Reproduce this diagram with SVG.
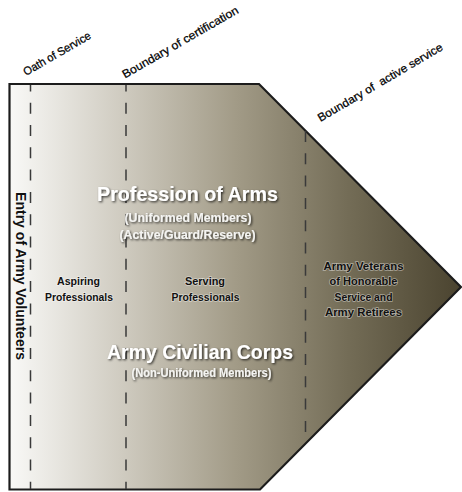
<svg xmlns="http://www.w3.org/2000/svg" width="462" height="492" viewBox="0 0 462 492">
<defs>
<linearGradient id="bg" gradientUnits="userSpaceOnUse" x1="9" y1="0" x2="462" y2="0">
<stop offset="0" stop-color="#f9f9f7"/>
<stop offset="0.25" stop-color="#cfcbc0"/>
<stop offset="0.5" stop-color="#a29b87"/>
<stop offset="0.75" stop-color="#736c56"/>
<stop offset="1" stop-color="#4a432f"/>
</linearGradient>
<filter id="shadow" x="-10%" y="-30%" width="120%" height="160%">
<feDropShadow dx="1.2" dy="1.2" stdDeviation="0.8" flood-color="#000" flood-opacity="0.75"/>
</filter>
</defs>
<style>
text{font-family:"Liberation Sans",Arial,sans-serif}
.dash{stroke:#3a3a3a;stroke-width:1.5;stroke-dasharray:11 11.3;fill:none}
.top{font-size:11.5px;fill:#000;stroke:#000;stroke-width:0.25}
.big{font-size:20.5px;font-weight:bold;fill:#fff;text-anchor:middle}
.sub{font-size:12.5px;font-weight:bold;fill:#f4f4f2;text-anchor:middle}
.lbl{font-size:11.5px;font-weight:bold;fill:#111;text-anchor:middle;stroke:#fff;stroke-opacity:0.45;stroke-width:1.6;paint-order:stroke}
</style>
<g id="shape">
<polygon points="9.5,84 259,84 461,287 260,489.5 9.5,489.5" fill="url(#bg)" stroke="#1c1c1c" stroke-width="2.2" stroke-linejoin="miter"/>
</g>
<g id="connectors">
<line class="dash" x1="30.5" y1="85" x2="30.5" y2="489" stroke-dashoffset="4.6"/>
<line class="dash" x1="126" y1="85" x2="126" y2="489" stroke-dashoffset="4.6"/>
<line class="dash" x1="305.5" y1="131" x2="305.5" y2="443" stroke-dashoffset="0"/>
</g>
<g id="boundary-labels">
<text class="top" transform="translate(26,76) rotate(-30)" textLength="76" lengthAdjust="spacingAndGlyphs">Oath of Service</text>
<text class="top" transform="translate(125,78.5) rotate(-30)" textLength="132" lengthAdjust="spacingAndGlyphs">Boundary of certification</text>
<text class="top" transform="translate(320.5,122) rotate(-30.5)" textLength="143" lengthAdjust="spacingAndGlyphs" xml:space="preserve">Boundary of  active service</text>
</g>
<g id="entry">
<text class="lbl" transform="translate(15.5,192) rotate(90)" style="font-size:14.5px;text-anchor:start" textLength="168" lengthAdjust="spacingAndGlyphs">Entry of Army Volunteers</text>
</g>
<g id="profession-of-arms" filter="url(#shadow)">
<text class="big" x="187.5" y="201" textLength="181" lengthAdjust="spacingAndGlyphs">Profession of Arms</text>
<text class="sub" x="188" y="221.5" textLength="127" lengthAdjust="spacingAndGlyphs">(Uniformed Members)</text>
<text class="sub" x="187.5" y="238.5" textLength="136" lengthAdjust="spacingAndGlyphs">(Active/Guard/Reserve)</text>
</g>
<g id="aspiring">
<text class="lbl" x="78.5" y="285" textLength="43" lengthAdjust="spacingAndGlyphs">Aspiring</text>
<text class="lbl" x="79" y="300.5" textLength="68" lengthAdjust="spacingAndGlyphs">Professionals</text>
</g>
<g id="serving">
<text class="lbl" x="205" y="285" textLength="40" lengthAdjust="spacingAndGlyphs">Serving</text>
<text class="lbl" x="205.5" y="300.5" textLength="68" lengthAdjust="spacingAndGlyphs">Professionals</text>
</g>
<g id="veterans">
<text class="lbl" x="363.5" y="270" textLength="80" lengthAdjust="spacingAndGlyphs">Army Veterans</text>
<text class="lbl" x="363.5" y="285" textLength="68" lengthAdjust="spacingAndGlyphs">of Honorable</text>
<text class="lbl" x="363.5" y="300.5" textLength="58" lengthAdjust="spacingAndGlyphs">Service and</text>
<text class="lbl" x="363.5" y="316" textLength="77" lengthAdjust="spacingAndGlyphs">Army Retirees</text>
</g>
<g id="army-civilian-corps" filter="url(#shadow)">
<text class="big" x="200" y="358.5" textLength="186" lengthAdjust="spacingAndGlyphs">Army Civilian Corps</text>
<text class="sub" x="201.5" y="377" textLength="140" lengthAdjust="spacingAndGlyphs">(Non-Uniformed Members)</text>
</g>
</svg>
